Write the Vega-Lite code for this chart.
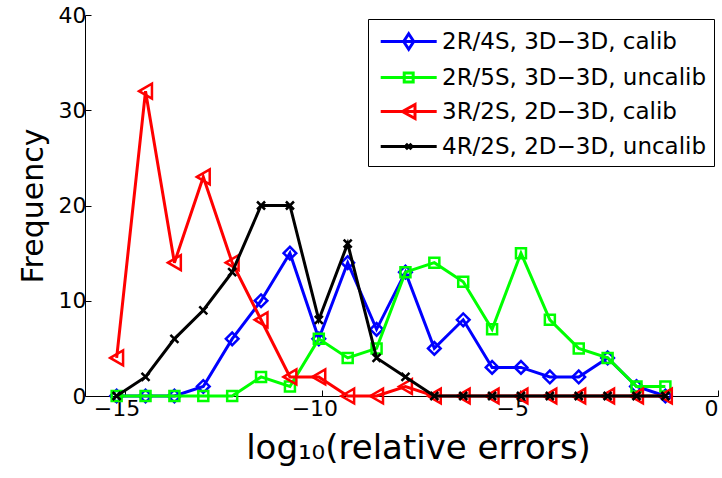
{
  "$schema": "https://vega.github.io/schema/vega-lite/v6.json",
  "width": 633,
  "height": 381,
  "autosize": "none",
  "padding": {"left": 85, "top": 15, "right": 4, "bottom": 82},
  "background": "white",
  "config": {"view": {"stroke": null}, "font": "DejaVu Sans"},
  "data": {"values": [
    {"s": "2R/4S, 3D−3D, calib", "x": -15.2, "y": 0},
    {"s": "2R/4S, 3D−3D, calib", "x": -14.47, "y": 0},
    {"s": "2R/4S, 3D−3D, calib", "x": -13.74, "y": 0},
    {"s": "2R/4S, 3D−3D, calib", "x": -13.01, "y": 1},
    {"s": "2R/4S, 3D−3D, calib", "x": -12.28, "y": 6},
    {"s": "2R/4S, 3D−3D, calib", "x": -11.55, "y": 10},
    {"s": "2R/4S, 3D−3D, calib", "x": -10.82, "y": 15},
    {"s": "2R/4S, 3D−3D, calib", "x": -10.09, "y": 6},
    {"s": "2R/4S, 3D−3D, calib", "x": -9.36, "y": 14},
    {"s": "2R/4S, 3D−3D, calib", "x": -8.63, "y": 7},
    {"s": "2R/4S, 3D−3D, calib", "x": -7.9, "y": 13},
    {"s": "2R/4S, 3D−3D, calib", "x": -7.17, "y": 5},
    {"s": "2R/4S, 3D−3D, calib", "x": -6.44, "y": 8},
    {"s": "2R/4S, 3D−3D, calib", "x": -5.71, "y": 3},
    {"s": "2R/4S, 3D−3D, calib", "x": -4.98, "y": 3},
    {"s": "2R/4S, 3D−3D, calib", "x": -4.25, "y": 2},
    {"s": "2R/4S, 3D−3D, calib", "x": -3.52, "y": 2},
    {"s": "2R/4S, 3D−3D, calib", "x": -2.79, "y": 4},
    {"s": "2R/4S, 3D−3D, calib", "x": -2.06, "y": 1},
    {"s": "2R/4S, 3D−3D, calib", "x": -1.33, "y": 0},
    {"s": "2R/5S, 3D−3D, uncalib", "x": -15.2, "y": 0},
    {"s": "2R/5S, 3D−3D, uncalib", "x": -14.47, "y": 0},
    {"s": "2R/5S, 3D−3D, uncalib", "x": -13.74, "y": 0},
    {"s": "2R/5S, 3D−3D, uncalib", "x": -13.01, "y": 0},
    {"s": "2R/5S, 3D−3D, uncalib", "x": -12.28, "y": 0},
    {"s": "2R/5S, 3D−3D, uncalib", "x": -11.55, "y": 2},
    {"s": "2R/5S, 3D−3D, uncalib", "x": -10.82, "y": 1},
    {"s": "2R/5S, 3D−3D, uncalib", "x": -10.09, "y": 6},
    {"s": "2R/5S, 3D−3D, uncalib", "x": -9.36, "y": 4},
    {"s": "2R/5S, 3D−3D, uncalib", "x": -8.63, "y": 5},
    {"s": "2R/5S, 3D−3D, uncalib", "x": -7.9, "y": 13},
    {"s": "2R/5S, 3D−3D, uncalib", "x": -7.17, "y": 14},
    {"s": "2R/5S, 3D−3D, uncalib", "x": -6.44, "y": 12},
    {"s": "2R/5S, 3D−3D, uncalib", "x": -5.71, "y": 7},
    {"s": "2R/5S, 3D−3D, uncalib", "x": -4.98, "y": 15},
    {"s": "2R/5S, 3D−3D, uncalib", "x": -4.25, "y": 8},
    {"s": "2R/5S, 3D−3D, uncalib", "x": -3.52, "y": 5},
    {"s": "2R/5S, 3D−3D, uncalib", "x": -2.79, "y": 4},
    {"s": "2R/5S, 3D−3D, uncalib", "x": -2.06, "y": 1},
    {"s": "2R/5S, 3D−3D, uncalib", "x": -1.33, "y": 1},
    {"s": "3R/2S, 2D−3D, calib", "x": -15.2, "y": 4},
    {"s": "3R/2S, 2D−3D, calib", "x": -14.47, "y": 32},
    {"s": "3R/2S, 2D−3D, calib", "x": -13.74, "y": 14},
    {"s": "3R/2S, 2D−3D, calib", "x": -13.01, "y": 23},
    {"s": "3R/2S, 2D−3D, calib", "x": -12.28, "y": 14},
    {"s": "3R/2S, 2D−3D, calib", "x": -11.55, "y": 8},
    {"s": "3R/2S, 2D−3D, calib", "x": -10.82, "y": 2},
    {"s": "3R/2S, 2D−3D, calib", "x": -10.09, "y": 2},
    {"s": "3R/2S, 2D−3D, calib", "x": -9.36, "y": 0},
    {"s": "3R/2S, 2D−3D, calib", "x": -8.63, "y": 0},
    {"s": "3R/2S, 2D−3D, calib", "x": -7.9, "y": 1},
    {"s": "3R/2S, 2D−3D, calib", "x": -7.17, "y": 0},
    {"s": "3R/2S, 2D−3D, calib", "x": -6.44, "y": 0},
    {"s": "3R/2S, 2D−3D, calib", "x": -5.71, "y": 0},
    {"s": "3R/2S, 2D−3D, calib", "x": -4.98, "y": 0},
    {"s": "3R/2S, 2D−3D, calib", "x": -4.25, "y": 0},
    {"s": "3R/2S, 2D−3D, calib", "x": -3.52, "y": 0},
    {"s": "3R/2S, 2D−3D, calib", "x": -2.79, "y": 0},
    {"s": "3R/2S, 2D−3D, calib", "x": -2.06, "y": 0},
    {"s": "3R/2S, 2D−3D, calib", "x": -1.33, "y": 0},
    {"s": "4R/2S, 2D−3D, uncalib", "x": -15.2, "y": 0},
    {"s": "4R/2S, 2D−3D, uncalib", "x": -14.47, "y": 2},
    {"s": "4R/2S, 2D−3D, uncalib", "x": -13.74, "y": 6},
    {"s": "4R/2S, 2D−3D, uncalib", "x": -13.01, "y": 9},
    {"s": "4R/2S, 2D−3D, uncalib", "x": -12.28, "y": 13},
    {"s": "4R/2S, 2D−3D, uncalib", "x": -11.55, "y": 20},
    {"s": "4R/2S, 2D−3D, uncalib", "x": -10.82, "y": 20},
    {"s": "4R/2S, 2D−3D, uncalib", "x": -10.09, "y": 8},
    {"s": "4R/2S, 2D−3D, uncalib", "x": -9.36, "y": 16},
    {"s": "4R/2S, 2D−3D, uncalib", "x": -8.63, "y": 4},
    {"s": "4R/2S, 2D−3D, uncalib", "x": -7.9, "y": 2},
    {"s": "4R/2S, 2D−3D, uncalib", "x": -7.17, "y": 0},
    {"s": "4R/2S, 2D−3D, uncalib", "x": -6.44, "y": 0},
    {"s": "4R/2S, 2D−3D, uncalib", "x": -5.71, "y": 0},
    {"s": "4R/2S, 2D−3D, uncalib", "x": -4.98, "y": 0},
    {"s": "4R/2S, 2D−3D, uncalib", "x": -4.25, "y": 0},
    {"s": "4R/2S, 2D−3D, uncalib", "x": -3.52, "y": 0},
    {"s": "4R/2S, 2D−3D, uncalib", "x": -2.79, "y": 0},
    {"s": "4R/2S, 2D−3D, uncalib", "x": -2.06, "y": 0},
    {"s": "4R/2S, 2D−3D, uncalib", "x": -1.33, "y": 0}
  ]},
  "encoding": {
    "x": {
      "field": "x", "type": "quantitative",
      "scale": {"domain": [-16, 0], "nice": false, "zero": false},
      "axis": {
        "title": "log₁₀(relative errors)", "titleFontSize": 34, "titleFontWeight": "normal", "titleColor": "black", "titlePadding": 12, "titleX": 333,
        "values": [-15, -10, -5, 0], "grid": false,
        "tickSize": -6, "tickColor": "black", "domainColor": "black", "domainWidth": 1,
        "labelFontSize": 22, "labelColor": "black", "labelPadding": 8,
        "labelOffset": {"condition": {"test": "datum.value < 0", "value": -8}, "value": 0}
      }
    },
    "y": {
      "field": "y", "type": "quantitative",
      "scale": {"domain": [0, 40], "nice": false},
      "axis": {
        "title": "Frequency", "titleFontSize": 30, "titleFontWeight": "normal", "titleColor": "black", "titlePadding": 10,
        "values": [0, 10, 20, 30, 40], "grid": false,
        "tickSize": -6, "tickColor": "black", "domainColor": "black", "domainWidth": 1,
        "labelFontSize": 22, "labelColor": "black", "labelPadding": 5
      }
    },
    "color": {
      "field": "s", "type": "nominal",
      "scale": {
        "domain": ["2R/4S, 3D−3D, calib", "2R/5S, 3D−3D, uncalib", "3R/2S, 2D−3D, calib", "4R/2S, 2D−3D, uncalib"],
        "range": ["#0000ff", "#00ff00", "#ff0000", "#000000"]
      },
      "legend": {
        "title": null, "orient": "top-right", "offset": 4,
        "fillColor": "white", "strokeColor": "black", "padding": 7,
        "labelFontSize": 23, "labelColor": "black", "labelOffset": 36, "labelLimit": 500,
        "symbolSize": 784, "symbolStrokeWidth": 2.5, "rowPadding": 6,
        "encode": {
          "symbols": {
            "update": {
              "shape": {"signal": "datum.value === '2R/4S, 3D−3D, calib' ? 'M-0.7,0L3.3,0M1.3,-0.55L1.66,0L1.3,0.55L0.94,0Z' : datum.value === '2R/5S, 3D−3D, uncalib' ? 'M-0.7,0L3.3,0M0.98,-0.32L1.62,-0.32L1.62,0.32L0.98,0.32Z' : datum.value === '3R/2S, 2D−3D, calib' ? 'M-0.7,0L3.3,0M0.85,0L1.75,-0.5L1.75,0.5Z' : 'M-0.7,0L3.3,0M1.1,-0.2L1.5,0.2M1.1,0.2L1.5,-0.2'"},
              "fill": {"value": "transparent"},
              "strokeWidth": {"value": 3}
            }
          }
        }
      }
    }
  },
  "layer": [
    {
      "transform": [{"filter": {"field": "s", "equal": "2R/4S, 3D−3D, calib"}}],
      "layer": [
        {"mark": {"type": "line", "strokeWidth": 3}},
        {"mark": {"type": "point", "filled": false, "shape": "diamond", "size": 160, "strokeWidth": 2.5, "opacity": 1}}
      ]
    },
    {
      "transform": [{"filter": {"field": "s", "equal": "2R/5S, 3D−3D, uncalib"}}],
      "layer": [
        {"mark": {"type": "line", "strokeWidth": 3}},
        {"mark": {"type": "point", "filled": false, "shape": "square", "size": 100, "strokeWidth": 2.5, "opacity": 1}}
      ]
    },
    {
      "transform": [{"filter": {"field": "s", "equal": "3R/2S, 2D−3D, calib"}}],
      "layer": [
        {"mark": {"type": "line", "strokeWidth": 3}},
        {"mark": {"type": "point", "filled": false, "shape": "triangle-left", "size": 220, "strokeWidth": 2.5, "opacity": 1}}
      ]
    },
    {
      "transform": [{"filter": {"field": "s", "equal": "4R/2S, 2D−3D, uncalib"}}],
      "layer": [
        {"mark": {"type": "line", "strokeWidth": 3}},
        {"mark": {"type": "point", "filled": false, "shape": "M-1,-1L1,1M-1,1L1,-1", "size": 64, "strokeWidth": 2.5, "opacity": 1}}
      ]
    }
  ]
}
